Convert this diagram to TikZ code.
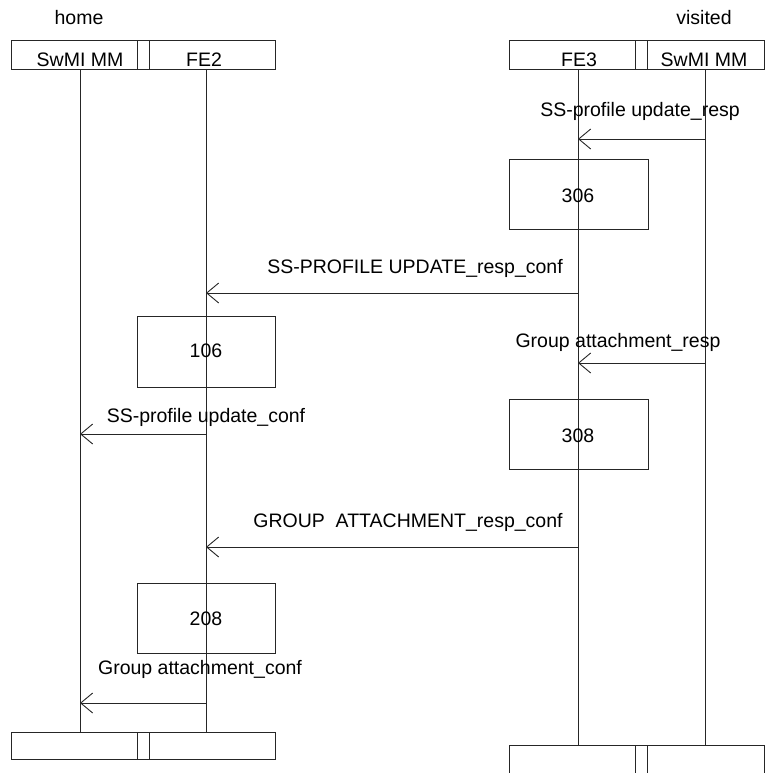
\documentclass[tikz,border=0pt]{standalone}
\usepackage{fontspec}
\setmainfont{Liberation Sans}
\usetikzlibrary{arrows.meta}
\begin{document}
\begin{tikzpicture}[x=1pt,y=-1pt,
  ln/.style={line width=0.9pt, draw=black!85},
  msg/.style={ln, -{Straight Barb[length=12pt,width=20pt,line width=0.9pt]}},
  lbl/.style={anchor=base, inner sep=0pt, font=\fontsize{19.5}{23}\selectfont},
  bx/.style={ln, rectangle, inner sep=0pt, anchor=north west},
]
\useasboundingbox (0,0) rectangle (765,773);

% headers
\node[lbl] (home) at (79,25) {home};
\node[lbl] (visited) at (704,25) {visited};

\node[bx, minimum width=264pt, minimum height=29pt] (hL) at (11,40) {};
\node[bx, minimum width=12pt, minimum height=29pt] (hLs) at (137,40) {};
\node[bx, minimum width=255pt, minimum height=29pt] (hR) at (509,40) {};
\node[bx, minimum width=12pt, minimum height=29pt] (hRs) at (635,40) {};

\node[lbl] (tSwL) at (80,67) {SwMI MM};
\node[lbl] (tFE2) at (204,67) {FE2};
\node[lbl] (tFE3) at (579,67) {FE3};
\node[lbl] (tSwR) at (704,67) {SwMI MM};

% footers
\node[bx, minimum width=264pt, minimum height=27pt] (fL) at (11,732) {};
\node[bx, minimum width=12pt, minimum height=27pt] (fLs) at (137,732) {};
\node[bx, minimum width=255pt, minimum height=40pt] (fR) at (509,745) {};
\node[bx, minimum width=12pt, minimum height=40pt] (fRs) at (635,745) {};

% lifelines
\coordinate (l1t) at (80,69);  \coordinate (l1b) at (80,732);
\coordinate (l2t) at (206,69); \coordinate (l2b) at (206,732);
\coordinate (l3t) at (578,69); \coordinate (l3b) at (578,745);
\coordinate (l4t) at (705,69); \coordinate (l4b) at (705,745);
\draw[ln] (l1t) -- (l1b);
\draw[ln] (l2t) -- (l2b);
\draw[ln] (l3t) -- (l3b);
\draw[ln] (l4t) -- (l4b);

% action boxes
\node[bx, minimum width=139pt, minimum height=70pt] (b306) at (509,159) {};
\node[lbl] (t306) at (578,202) {306};
\node[bx, minimum width=138pt, minimum height=71pt] (b106) at (137,316) {};
\node[lbl] (t106) at (206,357) {106};
\node[bx, minimum width=139pt, minimum height=70pt] (b308) at (509,399) {};
\node[lbl] (t308) at (578,442) {308};
\node[bx, minimum width=138pt, minimum height=70pt] (b208) at (137,583) {};
\node[lbl] (t208) at (206,625) {208};

% messages
\coordinate (m1s) at (705,139); \coordinate (m1e) at (578,139);
\draw[msg] (m1s) -- (m1e);
\node[lbl] (t1) at (640,117) {SS-profile update\_resp};

\coordinate (m2s) at (578,293); \coordinate (m2e) at (206,293);
\draw[msg] (m2s) -- (m2e);
\node[lbl] (t2) at (415,273) {SS-PROFILE UPDATE\_resp\_conf};

\coordinate (m3s) at (705,363); \coordinate (m3e) at (578,363);
\draw[msg] (m3s) -- (m3e);
\node[lbl] (t3) at (618,347) {Group attachment\_resp};

\coordinate (m4s) at (206,434); \coordinate (m4e) at (80,434);
\draw[msg] (m4s) -- (m4e);
\node[lbl] (t4) at (206,422) {SS-profile update\_conf};

\coordinate (m5s) at (578,547); \coordinate (m5e) at (206,547);
\draw[msg] (m5s) -- (m5e);
\node[lbl] (t5) at (408,527) {GROUP\ \ ATTACHMENT\_resp\_conf};

\coordinate (m6s) at (206,703); \coordinate (m6e) at (80,703);
\draw[msg] (m6s) -- (m6e);
\node[lbl] (t6) at (200,674) {Group attachment\_conf};
\end{tikzpicture}
\end{document}
